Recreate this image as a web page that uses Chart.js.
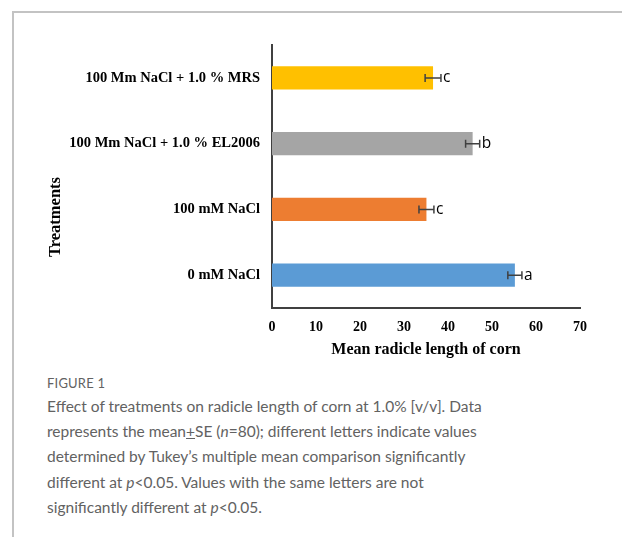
<!DOCTYPE html>
<html>
<head>
<meta charset="utf-8">
<script src="https://cdn.jsdelivr.net/npm/chart.js@4.4.1/dist/chart.umd.min.js"></script>
<style>
  body { margin: 0; background: #fff; width: 622px; height: 537px; overflow: hidden; position: relative; }
  #frame { position: absolute; left: 12px; top: 11px; width: 640px; height: 600px;
           border-top: 2px solid #c3c3c3; border-left: 2px solid #c3c3c3; }
  #wrap { position: absolute; left: 0; top: 0; width: 622px; height: 370px; }
  #cap { position: absolute; left: 47px; top: 372px; font-family: Lato, sans-serif; color: #626262; }
  #cap .fig { font-size: 13px; letter-spacing: 0.2px; line-height: 22px; }
  #cap .txt { font-size: 15.5px; line-height: 25.2px; }
</style>
</head>
<body>
<div id="frame"></div>
<div id="wrap"><canvas id="chart1"></canvas></div>
<div id="cap">
  <div class="fig">FIGURE 1</div>
  <div class="txt">Effect of treatments on radicle length of corn at 1.0% [v/v]. Data<br>
  represents the mean<u>+</u>SE (<i>n</i>=80); different letters indicate values<br>
  determined by Tukey’s multiple mean comparison significantly<br>
  different at <i>p</i>&lt;0.05. Values with the same letters are not<br>
  significantly different at <i>p</i>&lt;0.05.</div>
</div>
<script>
// data (top to bottom)
const treatments = ['100 Mm NaCl + 1.0 % MRS', '100 Mm NaCl + 1.0 % EL2006', '100 mM NaCl', '0 mM NaCl'];
const radicleLength = [36.6, 45.6, 35.1, 55.2];
const stdErr = [1.8, 1.6, 1.7, 1.6];
const letters = ['c', 'b', 'c', 'a'];
const barColors = ['#FFC000', '#A5A5A5', '#ED7D31', '#5B9BD5'];
const xTicks = [0, 10, 20, 30, 40, 50, 60, 70];

// error bars + letters
const errorBars = {
    id: 'errorBars',
    afterDatasetsDraw(chart) {
        const ctx = chart.ctx;
        const xs = chart.scales.x, ys = chart.scales.y;
        ctx.save();
        ctx.strokeStyle = '#404040';
        ctx.lineWidth = 1.5;
        radicleLength.forEach((v, i) => {
            const y = ys.getPixelForValue(i);
            const x1 = xs.getPixelForValue(v - stdErr[i]);
            const x2 = xs.getPixelForValue(v + stdErr[i]);
            ctx.beginPath();
            ctx.moveTo(x1, y); ctx.lineTo(x2, y);
            ctx.moveTo(x1, y - 4); ctx.lineTo(x1, y + 4);
            ctx.moveTo(x2, y - 4); ctx.lineTo(x2, y + 4);
            ctx.stroke();
            ctx.fillStyle = '#000';
            ctx.font = '15.5px "Open Sans", sans-serif';
            ctx.textAlign = 'left';
            ctx.textBaseline = 'middle';
            ctx.fillText(letters[i], x2 + 2, y);
        });
        // y axis title
        ctx.translate(56, 217);
        ctx.rotate(-Math.PI / 2);
        ctx.font = 'bold 16.5px "Liberation Serif", serif';
        ctx.textAlign = 'center';
        ctx.textBaseline = 'middle';
        ctx.fillText('Treatments', 0, 0);
        ctx.restore();
    }
};

const ctx = document.querySelector('#chart1').getContext('2d');
const chart = new Chart(ctx, {
    type: 'bar',
    data: {
        labels: treatments,
        datasets: [{
            data: radicleLength,
            backgroundColor: barColors,
            barPercentage: 0.35,
            categoryPercentage: 1
        }]
    },
    options: {
        indexAxis: 'y',
        responsive: true,
        maintainAspectRatio: false,
        animation: false,
        layout: { padding: { top: 45, right: 42, bottom: 0, left: 0 } },
        plugins: { legend: { display: false }, tooltip: { enabled: false } },
        scales: {
            x: {
                min: 0, max: 70,
                afterBuildTicks: (s) => { s.ticks = xTicks.map(v => ({ value: v })); },
                afterFit: (s) => { s.height = 62; },
                grid: { display: false, drawTicks: false },
                border: { display: true, color: '#404040', width: 2 },
                ticks: { color: '#000', padding: 11, font: { family: '"Liberation Serif", serif', size: 14, weight: 'bold' } },
                title: { display: true, text: 'Mean radicle length of corn', color: '#000',
                         padding: { top: 0, bottom: 11 },
                         font: { family: '"Liberation Serif", serif', size: 16, weight: 'bold' } }
            },
            y: {
                afterFit: (s) => { s.width = 272; },
                grid: { display: false, drawTicks: false },
                border: { display: true, color: '#404040', width: 2 },
                ticks: { color: '#000', padding: 12, font: { family: '"Liberation Serif", serif', size: 14.5, weight: 'bold' } }
            }
        }
    },
    plugins: [errorBars]
});
</script>
</body>
</html>
